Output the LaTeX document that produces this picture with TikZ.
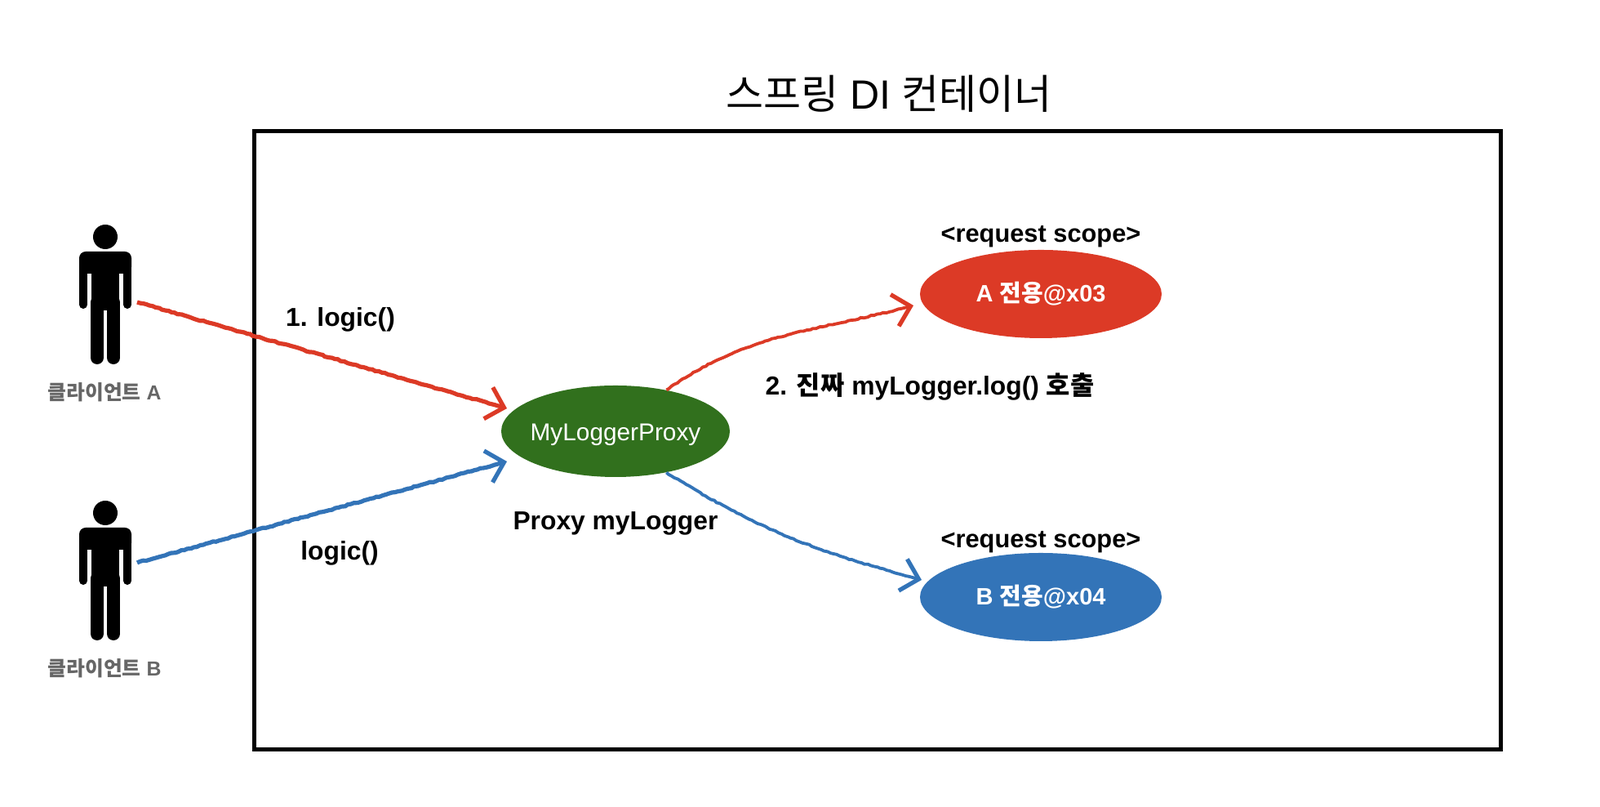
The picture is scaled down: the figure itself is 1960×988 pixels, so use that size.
\documentclass[tikz,border=0pt]{standalone}
\usepackage{fontspec}
\setmainfont{Liberation Sans}
\newfontfamily\krfont{Noto Sans CJK KR}
\usetikzlibrary{arrows.meta,decorations.pathmorphing,shapes.geometric}
\definecolor{redfill}{HTML}{DC3A26}
\definecolor{greenfill}{HTML}{31701D}
\definecolor{bluefill}{HTML}{3374B8}
\definecolor{clientgray}{HTML}{666666}
\tikzset{
  bean/.style={ellipse,fill=#1,text=white,inner sep=-5pt,minimum width=296*0.5pt,minimum height=108*0.5pt,font=\fontsize{14.5}{16}\selectfont\bfseries},
  label/.style={font=\fontsize{15.9}{18}\selectfont\bfseries},
  client/.style={text=clientgray,font=\fontsize{12.4}{14}\selectfont\bfseries},
  rough/.style={draw=#1,line width=2.6pt,-{Straight Barb[length=10pt,width=20pt,line width=2.6pt]},
    decorate,decoration={random steps,segment length=2pt,amplitude=.35pt,post=lineto,post length=8pt}},
  pics/person/.style={code={
    \fill (0,0) circle (15);
    \fill[rounded corners=4pt] (-32,-18) rectangle (32,-45);
    \fill (-17,-30) rectangle (17,-90);
    \draw[line width=5pt,line cap=round] (-27,-30) -- (-27,-83);
    \draw[line width=5pt,line cap=round] (27,-30) -- (27,-83);
    \draw[line width=8pt,line cap=round] (-10,-80) -- (-10,-148);
    \draw[line width=8pt,line cap=round] (10,-80) -- (10,-148);
  }}
}
\begin{document}
\begin{tikzpicture}[x=0.5pt,y=0.5pt]
  \useasboundingbox (0,0) rectangle (1960,988);
  \fill[white] (0,0) rectangle (1960,988);
  % container
  \draw[line width=2.5pt] (311,70) rectangle (1838,827);
  \node[font=\fontsize{25}{30}\selectfont] (title) at (1089,873) {{\krfont 스프링} DI {\krfont 컨테이너}};
  % clients
  \pic at (129,698) {person};
  \pic at (129,360) {person};
  \node[client] (clientA) at (128,508) {{\krfont\bfseries 클라이언트} A};
  \node[client] (clientB) at (128,170) {{\krfont\bfseries 클라이언트} B};
  % beans
  \node[bean=greenfill,minimum width=280*0.5pt,minimum height=112*0.5pt,text height=14.5pt,text depth=3.2pt,font=\fontsize{14.9}{16}\selectfont] (proxy) at (754,460) {MyLoggerProxy};
  \node[bean=redfill] (beanA) at (1275,628) {A {\krfont\bfseries 전용}@x03};
  \node[bean=bluefill] (beanB) at (1275,257) {B {\krfont\bfseries 전용}@x04};
  \node[label,font=\fontsize{15.4}{18}\selectfont\bfseries] (scopeA) at (1275,698) {<request scope>};
  \node[label,font=\fontsize{15.4}{18}\selectfont\bfseries] (scopeB) at (1275,324) {<request scope>};
  % labels
  \node[label] (call1) at (417,597) {1. logic()};
  \node[label] (callB) at (416,311) {logic()};
  \node[label] (proxyname) at (754,347) {Proxy myLogger};
  \node[label] (call2) at (1139,515) {2. {\krfont\bfseries 진짜} myLogger.log() {\krfont\bfseries 호출}};
  % arrow ends
  \coordinate (startA) at (168,618);
  \coordinate (startB) at (168,299);
  \coordinate (endA) at (621,488);
  \coordinate (endB) at (621,423);
  \coordinate (endbeanA) at (1119,614);
  \coordinate (endbeanB) at (1129,278);
  % arrows
  \draw[rough=redfill] (startA) -- (endA);
  \draw[rough=bluefill] (startB) -- (endB);
  \draw[rough=redfill,line width=1.9pt] (proxy.39) to[out=35,in=195] (endbeanA);
  \draw[rough=bluefill,line width=1.9pt] (proxy.-39) to[out=-32,in=165] (endbeanB);
\end{tikzpicture}
\end{document}
